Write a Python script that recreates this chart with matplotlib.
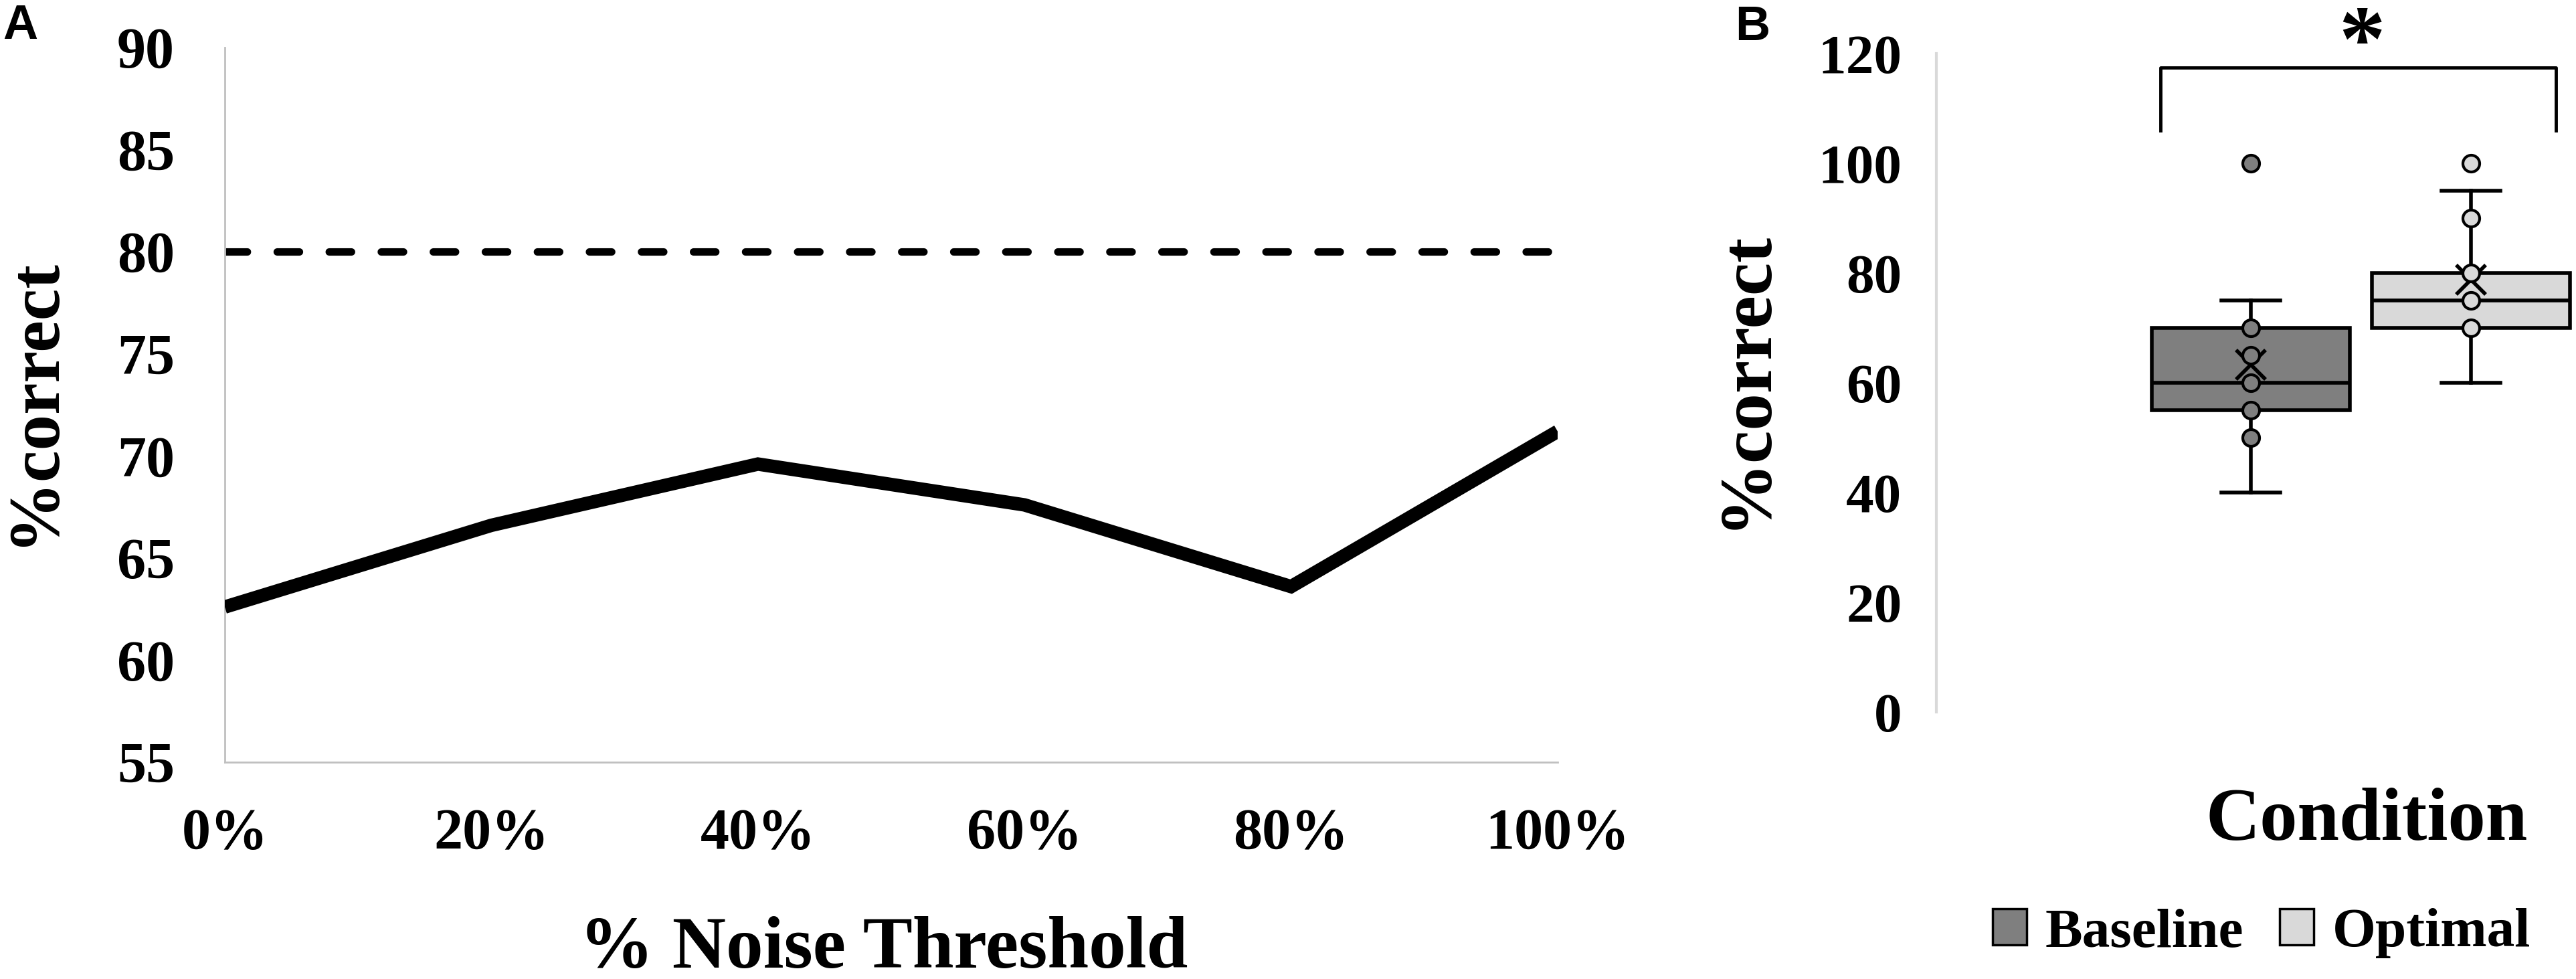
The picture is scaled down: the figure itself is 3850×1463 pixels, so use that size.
import matplotlib
matplotlib.use('Agg')
import matplotlib.pyplot as plt
from matplotlib.patches import Patch

# panel A: accuracy vs. noise threshold
noise_levels = [0, 20, 40, 60, 80, 100]
pct_correct = [62.6, 66.6, 69.6, 67.6, 63.6, 71.2]
chance_line = 80

# panel B: box plot stats per condition
conditions = ['Baseline', 'Optimal']
q1 = [55, 70]
medians = [60, 75]
q3 = [70, 80]
whis_lo = [40, 60]
whis_hi = [75, 95]
means = [63.3, 78.8]
inner_points = [[50, 55, 60, 65, 70], [70, 75, 80, 90]]
outliers = [[100], [100]]
box_colors = ['#7F7F7F', '#D9D9D9']

plt.rcParams['font.family'] = ['Liberation Serif', 'DejaVu Serif']
plt.rcParams['font.weight'] = 'bold'

W, H = 3850, 1463
fig = plt.figure(figsize=(W / 100, H / 100), dpi=100)


def px_box(l, t, r, b):
    return [l / W, 1 - b / H, (r - l) / W, (b - t) / H]


# ------------ PANEL A ------------
axA = fig.add_axes(px_box(336, 71, 2328, 1139))
axA.plot(noise_levels, pct_correct, color='black', lw=14.5,
         solid_joinstyle='miter', solid_capstyle='butt', zorder=3)
axA.axhline(chance_line, color='black', lw=8, linestyle=(0, (3, 4)),
            dash_capstyle='round', zorder=2)
axA.set_xlim(0, 100)
axA.set_ylim(55, 90)
axA.set_xticks(noise_levels)
axA.set_xticklabels([f'{v}%' for v in noise_levels])
axA.set_yticks(range(55, 91, 5))
for s in ['top', 'right']:
    axA.spines[s].set_visible(False)
for s in ['left', 'bottom']:
    axA.spines[s].set_color('#C0C0C0')
    axA.spines[s].set_linewidth(2)
axA.tick_params(length=0, labelsize=62)
axA.tick_params(axis='x', pad=50)
axA.tick_params(axis='y', pad=54)

fig.text(52 / W, 1 - 600 / H, '%correct', rotation=90, ha='center',
         va='center', fontsize=77)
fig.text(1321 / W, 1 - 1446 / H, '% Noise Threshold', ha='center',
         va='baseline', fontsize=80)

# ------------ PANEL B ------------
axB = fig.add_axes(px_box(2894, 80, 3850, 1064))
positions = [1, 2]
stats = []
for i, c in enumerate(conditions):
    stats.append(dict(label=c, q1=q1[i], med=medians[i], q3=q3[i],
                      whislo=whis_lo[i], whishi=whis_hi[i], mean=means[i],
                      fliers=[]))
bp = axB.bxp(stats, positions=positions, widths=0.9, capwidths=0.27,
             showmeans=True, patch_artist=True, showfliers=False,
             boxprops=dict(edgecolor='black', linewidth=4),
             medianprops=dict(color='black', linewidth=4),
             whiskerprops=dict(color='black', linewidth=4),
             capprops=dict(color='black', linewidth=4),
             meanprops=dict(marker='x', markeredgecolor='black',
                            markersize=32, markeredgewidth=4))
for patch, col in zip(bp['boxes'], box_colors):
    patch.set_facecolor(col)

for i, pos in enumerate(positions):
    pts = inner_points[i] + outliers[i]
    axB.plot([pos] * len(pts), pts, 'o', ms=18, mfc=box_colors[i],
             mec='black', mew=3, zorder=5)

axB.set_xlim(1 - 470 / 329, 2 + 157 / 329)
axB.set_ylim(0, 120)
axB.set_yticks(range(0, 121, 20))
axB.set_xticks([])
for s in ['top', 'right', 'bottom']:
    axB.spines[s].set_visible(False)
axB.spines['left'].set_color('#D9D9D9')
axB.spines['left'].set_linewidth(3)
axB.tick_params(length=0, labelsize=60, pad=37)

# significance bracket
axB.plot([0.59, 0.59, 2.386, 2.386], [106, 117.5, 117.5, 106],
         color='black', lw=3.5, clip_on=False)
axB.text(1.505, 116.9, '*', ha='center', va='baseline', fontsize=100,
         clip_on=False)

fig.text(2610 / W, 1 - 567 / H, '%correct', rotation=90, ha='center',
         va='center', fontsize=80)
fig.text(3537 / W, 1 - 1255 / H, 'Condition', ha='center', va='baseline',
         fontsize=81)

handles = [Patch(facecolor=c, edgecolor='black', linewidth=2.5, label=l)
           for c, l in zip(box_colors, conditions)]
fig.legend(handles=handles, loc='center', bbox_to_anchor=(3380 / W, 1 - 1395 / H),
           ncol=2, frameon=False, fontsize=60, handlelength=0.62,
           handleheight=0.62, handletextpad=0.33, columnspacing=0.64,
           borderaxespad=0, borderpad=0)

# panel letters
fig.text(4 / W, 1 - 58 / H, 'A', family='Liberation Sans', weight='bold',
         fontsize=52, va='baseline', ha='left')
fig.text(2593 / W, 1 - 60 / H, 'B', family='Liberation Sans', weight='bold',
         fontsize=52, va='baseline', ha='left')

fig.savefig('out.png', dpi=100)
